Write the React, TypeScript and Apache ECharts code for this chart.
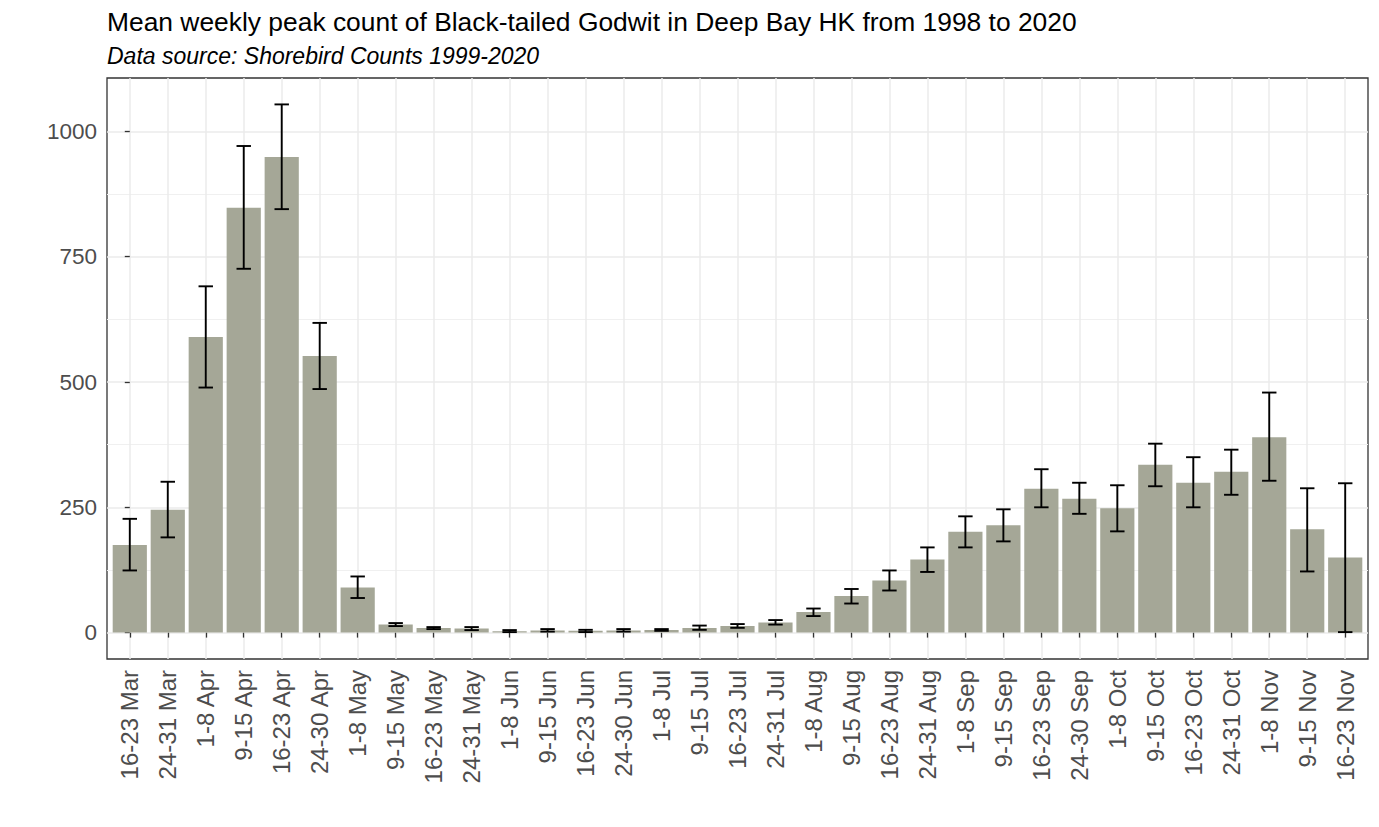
import React, { useEffect, useRef } from "react";
import * as echarts from "echarts";

const categories = [
  "16-23 Mar", "24-31 Mar", "1-8 Apr", "9-15 Apr", "16-23 Apr", "24-30 Apr",
  "1-8 May", "9-15 May", "16-23 May", "24-31 May", "1-8 Jun", "9-15 Jun",
  "16-23 Jun", "24-30 Jun", "1-8 Jul", "9-15 Jul", "16-23 Jul", "24-31 Jul",
  "1-8 Aug", "9-15 Aug", "16-23 Aug", "24-31 Aug", "1-8 Sep", "9-15 Sep",
  "16-23 Sep", "24-30 Sep", "1-8 Oct", "9-15 Oct", "16-23 Oct", "24-31 Oct",
  "1-8 Nov", "9-15 Nov", "16-23 Nov",
];

const means = [
  175, 245, 590, 848, 949, 552, 90, 16, 9, 8, 2.5, 4, 3.5, 4, 5, 9, 13, 20,
  41, 73, 104, 146, 201, 214, 287, 267, 248, 335, 299, 321, 390, 206, 150,
];

const lower = [
  124, 190, 489, 726, 845, 486, 69, 13, 7, 5, 1, 2, 1, 2, 3.5, 5.5, 9.5, 16,
  33, 58, 84, 121, 170, 182, 250, 237, 202, 292, 250, 275, 303, 122, 1,
];

const upper = [
  227, 301, 691, 971, 1054, 618, 112, 19, 11, 11, 5, 7, 5.5, 7, 7, 14, 17, 25,
  48, 87, 124, 170, 232, 246, 326, 299, 294, 377, 350, 365, 479, 288, 298,
];

const yMajorTicks = [0, 250, 500, 750, 1000];
const yMinorTicks = [125, 375, 625, 875];

const TITLE = "Mean weekly peak count of Black-tailed Godwit in Deep Bay HK from 1998 to 2020";
const SUBTITLE = "Data source: Shorebird Counts 1999-2020";

export default function App() {
  const ref = useRef<HTMLDivElement>(null);

  useEffect(() => {
    document.body.style.margin = "0";
    const chart = echarts.init(ref.current!, null, { renderer: "svg" });
    const idx = categories.map((_, i) => i);
    const yTop = Math.max(...upper);
    const yBottom = Math.min(0, ...lower);
    const span = yTop - yBottom;
    const yMin = yBottom - 0.05 * span;
    const yMax = yTop + 0.05 * span;
    const font = "'Liberation Sans', Arial, Helvetica, sans-serif";

    chart.setOption({
      animation: false,
      backgroundColor: "#ffffff",
      textStyle: { fontFamily: font },
      title: [
        {
          text: TITLE,
          left: 107,
          top: 9,
          padding: 0,
          textStyle: { fontSize: 26.4, fontWeight: "normal", color: "#000000", fontFamily: font },
        },
        {
          text: SUBTITLE,
          left: 107,
          top: 44,
          padding: 0,
          textStyle: {
            fontSize: 23,
            fontStyle: "italic",
            fontWeight: "normal",
            color: "#000000",
            fontFamily: font,
          },
        },
      ],
      grid: {
        left: 107,
        right: 11,
        top: 78,
        bottom: 168,
        show: true,
        borderColor: "#333333",
        borderWidth: 1.3,
        backgroundColor: "#ffffff",
        containLabel: false,
      },
      xAxis: {
        type: "value",
        min: -0.6,
        max: categories.length - 1 + 0.6,
        axisLine: { show: false },
        axisTick: {
          show: true,
          length: 5,
          customValues: idx,
          lineStyle: { color: "#333333", width: 1.3 },
        },
        axisLabel: {
          show: true,
          customValues: idx,
          rotate: 90,
          margin: 11,
          fontSize: 24,
          color: "#4d4d4d",
          fontFamily: font,
          formatter: (v: number) => categories[Math.round(v)] ?? "",
        },
        splitLine: { show: true, lineStyle: { color: "#ebebeb", width: 1.5 } },
      },
      yAxis: [
        {
          type: "value",
          min: yMin,
          max: yMax,
          axisLine: { show: false },
          axisTick: {
            show: true,
            length: 5,
            customValues: yMajorTicks,
            lineStyle: { color: "#333333", width: 1.3 },
          },
          axisLabel: {
            show: true,
            customValues: yMajorTicks,
            margin: 10,
            fontSize: 22.5,
            color: "#4d4d4d",
            fontFamily: font,
            formatter: (v: number) => String(Math.round(v)),
          },
          splitLine: { show: true, lineStyle: { color: "#ebebeb", width: 1.5 } },
        },
        {
          type: "value",
          min: yMin,
          max: yMax,
          position: "left",
          axisLine: { show: false },
          axisTick: { show: false, customValues: yMinorTicks },
          axisLabel: { show: false, customValues: yMinorTicks },
          splitLine: { show: true, lineStyle: { color: "#f0f0f0", width: 1 } },
        },
      ],
      series: [
        {
          type: "bar",
          name: "Mean peak count",
          xAxisIndex: 0,
          yAxisIndex: 0,
          data: idx.map((i) => [i, means[i]]),
          barWidth: "90%",
          itemStyle: { color: "#a5a797" },
          z: 2,
        },
        {
          type: "custom",
          name: "Error",
          xAxisIndex: 0,
          yAxisIndex: 0,
          data: idx.map((i) => [i, lower[i], upper[i]]),
          encode: { x: 0, y: [1, 2] },
          z: 3,
          renderItem: (params: any, api: any) => {
            const x = api.value(0);
            const lo = api.coord([x, api.value(1)]);
            const hi = api.coord([x, api.value(2)]);
            const half = api.size([0.19, 0])[0];
            const style = { stroke: "#000000", lineWidth: 1.9 };
            return {
              type: "group",
              children: [
                { type: "line", shape: { x1: lo[0], y1: lo[1], x2: hi[0], y2: hi[1] }, style },
                { type: "line", shape: { x1: hi[0] - half, y1: hi[1], x2: hi[0] + half, y2: hi[1] }, style },
                { type: "line", shape: { x1: lo[0] - half, y1: lo[1], x2: lo[0] + half, y2: lo[1] }, style },
              ],
            };
          },
        },
      ],
    });

    return () => chart.dispose();
  }, []);

  return <div ref={ref} style={{ width: 1379, height: 827 }} />;
}
